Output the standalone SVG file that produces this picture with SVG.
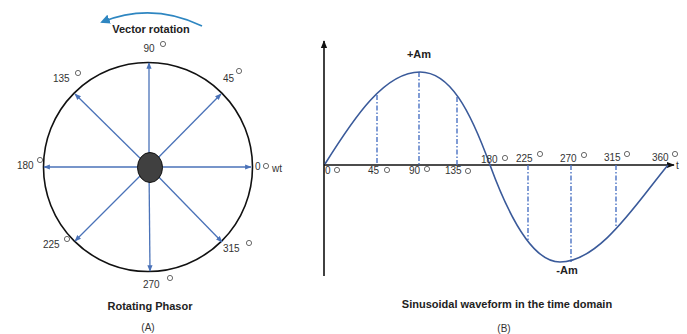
<svg xmlns="http://www.w3.org/2000/svg" width="687" height="334" viewBox="0 0 687 334">
<defs>
<style>
.t{font-family:"Liberation Sans",Arial,sans-serif;font-size:10px;fill:#333}
.b{font-family:"Liberation Sans",Arial,sans-serif;font-size:11px;font-weight:bold;fill:#222}
.deg{fill:#fff;stroke:#444;stroke-width:0.8}
.vec{stroke:#4a72b8;stroke-width:1.3;fill:none;marker-end:url(#ah)}
.dd{stroke:#4a72c4;stroke-width:1.4;stroke-dasharray:5 2 1.5 2;fill:none}
</style>
<marker id="ah" viewBox="0 0 10 10" refX="9" refY="5" markerWidth="5" markerHeight="5" orient="auto"><path d="M0,1 L10,5 L0,9 z" fill="#4a72b8"/></marker>
<marker id="ak" viewBox="0 0 10 10" refX="9" refY="5" markerWidth="5" markerHeight="5" orient="auto"><path d="M0,1 L10,5 L0,9 z" fill="#111"/></marker>
<marker id="ar" viewBox="0 0 10 10" refX="8" refY="5" markerWidth="6" markerHeight="6" orient="auto"><path d="M0,0 L10,5 L0,10 z" fill="#2e86c1"/></marker>
</defs>
<rect width="687" height="334" fill="#fff"/>

<g id="phasor">
<path d="M202,26 Q152,2 102,22" fill="none" stroke="#2e86c1" stroke-width="1.6" marker-end="url(#ar)"/>
<text class="b" x="151" y="33" text-anchor="middle">Vector rotation</text>
<circle cx="148" cy="167" r="104.5" fill="none" stroke="#111" stroke-width="1.6"/>
<g id="vectors">
<line class="vec" x1="149" y1="167" x2="149" y2="63"/>
<line class="vec" x1="149" y1="167" x2="221" y2="94"/>
<line class="vec" x1="149" y1="167" x2="75" y2="94"/>
<line class="vec" x1="149" y1="167" x2="44" y2="167"/>
<line class="vec" x1="149" y1="167" x2="251" y2="167"/>
<line class="vec" x1="149" y1="167" x2="75" y2="241"/>
<line class="vec" x1="149" y1="167" x2="222" y2="242"/>
<line class="vec" x1="149" y1="167" x2="150" y2="271"/>
</g>
<ellipse cx="150" cy="167.5" rx="12.5" ry="15" fill="#404040" stroke="#111" stroke-width="1"/>
<text class="t" x="149" y="52" text-anchor="middle">90</text><circle class="deg" cx="163" cy="44" r="2.6"/>
<text class="t" x="53" y="82">135</text><circle class="deg" cx="78" cy="73" r="2.6"/>
<text class="t" x="223" y="82">45</text><circle class="deg" cx="239" cy="71" r="2.6"/>
<text class="t" x="17" y="169">180</text><circle class="deg" cx="40" cy="160" r="2.6"/>
<text class="t" x="255" y="170">0</text><circle class="deg" cx="266" cy="166" r="2.6"/>
<text class="t" x="272" y="172">wt</text>
<text class="t" x="43" y="248">225</text><circle class="deg" cx="67" cy="239" r="2.6"/>
<text class="t" x="223" y="252">315</text><circle class="deg" cx="249" cy="243" r="2.6"/>
<text class="t" x="143" y="288">270</text><circle class="deg" cx="170" cy="278" r="2.6"/>
<text class="b" x="150" y="310" text-anchor="middle">Rotating Phasor</text>
<text class="t" x="148" y="331" text-anchor="middle">(A)</text>
</g>

<g id="waveform">
<line x1="324" y1="276" x2="324" y2="41" stroke="#111" stroke-width="1.6" marker-end="url(#ak)"/>
<line x1="324" y1="165" x2="674" y2="165" stroke="#111" stroke-width="1.6" marker-end="url(#ak)"/>
<text class="t" x="676" y="169">t</text>
<g id="dashes">
<line class="dd" x1="377" y1="95" x2="377" y2="165"/>
<line class="dd" x1="419" y1="72" x2="419" y2="165"/>
<line class="dd" x1="457" y1="97" x2="457" y2="165"/>
<line class="dd" x1="528" y1="165" x2="528" y2="240"/>
<line class="dd" x1="571" y1="165" x2="571" y2="262"/>
<line class="dd" x1="616" y1="165" x2="616" y2="227"/>
</g>
<path d="M325,164 C355,116 385,72 420,72 C450,72 470,110 490,165 C505,206 530,262 560,262 C600,262 638,201 668,165" fill="none" stroke="#3a5a9a" stroke-width="1.6"/>
<text class="b" x="419" y="58" text-anchor="middle">+Am</text>
<text class="b" x="567" y="274" text-anchor="middle">-Am</text>
<text class="t" x="325" y="174">0</text><circle class="deg" cx="337" cy="170" r="2.6"/>
<text class="t" x="368" y="174">45</text><circle class="deg" cx="387" cy="170" r="2.6"/>
<text class="t" x="409" y="174">90</text><circle class="deg" cx="427" cy="169" r="2.6"/>
<text class="t" x="445" y="174">135</text><circle class="deg" cx="468" cy="171" r="2.6"/>
<text class="t" x="481" y="163">180</text><circle class="deg" cx="505" cy="158" r="2.6"/>
<text class="t" x="516" y="162">225</text><circle class="deg" cx="540" cy="154" r="2.6"/>
<text class="t" x="560" y="162">270</text><circle class="deg" cx="584" cy="155" r="2.6"/>
<text class="t" x="604" y="161">315</text><circle class="deg" cx="627" cy="154" r="2.6"/>
<text class="t" x="652" y="161">360</text><circle class="deg" cx="675" cy="154" r="2.6"/>
<text class="b" x="507" y="308" text-anchor="middle">Sinusoidal waveform in the time domain</text>
<text class="t" x="504" y="332" text-anchor="middle">(B)</text>
</g>
</svg>
